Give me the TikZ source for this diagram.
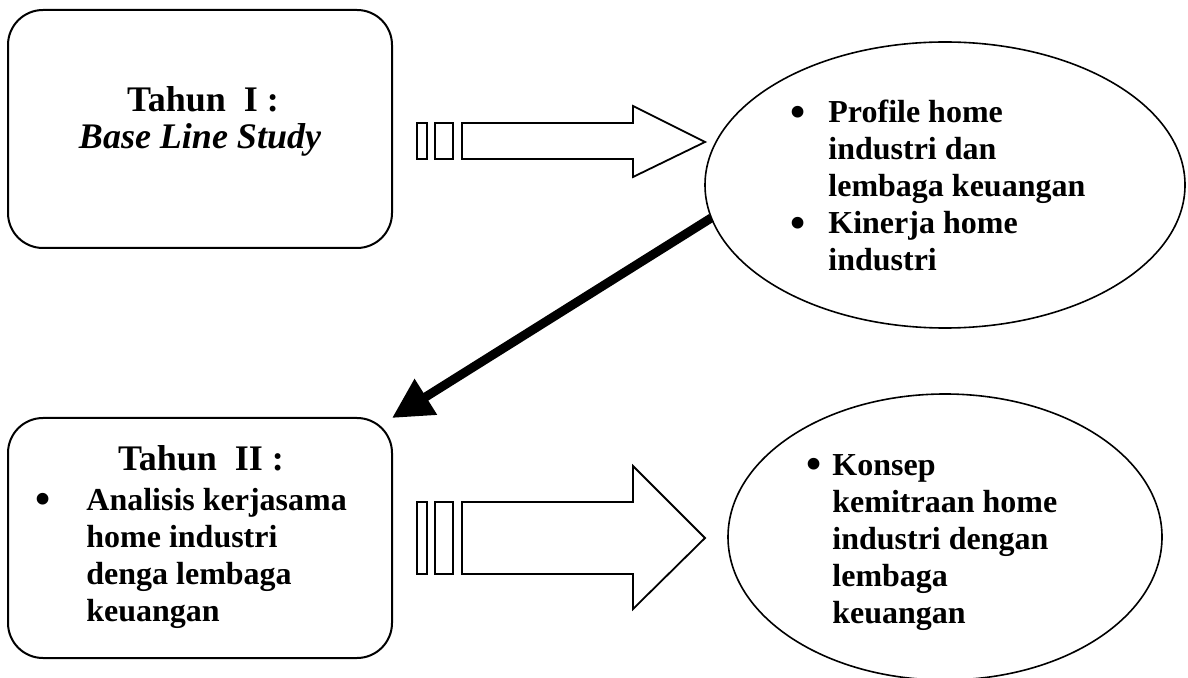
\documentclass[tikz,border=0pt]{standalone}
\usepackage{fontspec}
\setmainfont{Liberation Serif}
\usetikzlibrary{shapes.geometric, arrows.meta}

\newcommand{\bigbullet}{\raisebox{-0.12em}{\scalebox{1.35}{\textbullet}}}

\begin{document}
\begin{tikzpicture}[x=0.5pt, y=-0.5pt,
	box/.style={draw, line width=1pt, rounded corners=17.5pt, minimum width=192pt, inner sep=0pt, outer sep=0pt},
	oval/.style={draw, ellipse, line width=0.8pt, minimum height=143pt, inner sep=0pt, outer sep=0pt},
	title/.style={inner sep=0pt, anchor=base, font=\fontsize{18}{20.7}\selectfont\bfseries},
	txt/.style={inner sep=0pt, anchor=base west, font=\fontsize{16}{18.5}\selectfont\bfseries},
	blockarrow/.style={draw, line width=0.9pt, line join=miter},
	bigarrow/.style={line width=4.5pt, -{Triangle[length=20pt, width=20pt]}}]

	\useasboundingbox (0,0) rectangle (1188,678);

% Draw boxes and ovals.

	%year one
	\node[box, minimum height=119pt] (tahunI) at (200,129) {};
	\node[title] (judulI) at (203,112) {Tahun\ \ I :};
	\node[title] (studi) at (200,149) {\itshape Base Line Study};

	%year two
	\node[box, minimum height=120pt] (tahunII) at (200,538) {};
	\node[title] (judulII) at (201,470) {Tahun\ \ II :};
	\node[txt] (analisis) at (35,510) {\begin{tabular}[t]{@{}p{25.5pt}@{}l@{}}
		\bigbullet & Analisis kerjasama\\
		& home industri\\
		& denga lembaga\\
		& keuangan
	\end{tabular}};

	%outputs
	\node[oval, minimum width=240pt] (profil) at (945,185) {};
	\node[txt] (hasilI) at (790,123) {\begin{tabular}[t]{@{}p{19pt}@{}l@{}}
		\bigbullet & Profile home\\
		& industri dan\\
		& lembaga keuangan\\
		\bigbullet & Kinerja home\\
		& industri
	\end{tabular}};

	\node[oval, minimum width=217pt] (konsep) at (945,537) {};
	\node[txt] (hasilII) at (806,475) {\begin{tabular}[t]{@{}p{13pt}@{}l@{}}
		\bigbullet & Konsep\\
		& kemitraan home\\
		& industri dengan\\
		& lembaga\\
		& keuangan
	\end{tabular}};

% Draw striped arrows.

	\draw[blockarrow] (417,123) rectangle (427,159);
	\draw[blockarrow] (435,123) rectangle (453,159);
	\draw[blockarrow] (462,123) -- (633,123) -- (633,106) -- (705,142) -- (633,177) -- (633,159) -- (462,159) -- cycle;

	\draw[blockarrow] (417,502) rectangle (427,574);
	\draw[blockarrow] (435,502) rectangle (453,574);
	\draw[blockarrow] (462,502) -- (633,502) -- (633,466) -- (705,538) -- (633,609) -- (633,574) -- (462,574) -- cycle;

% Draw bold arrow.

	\draw[bigarrow] (profil.188) -- (tahunII.north east);

\end{tikzpicture}
\end{document}
